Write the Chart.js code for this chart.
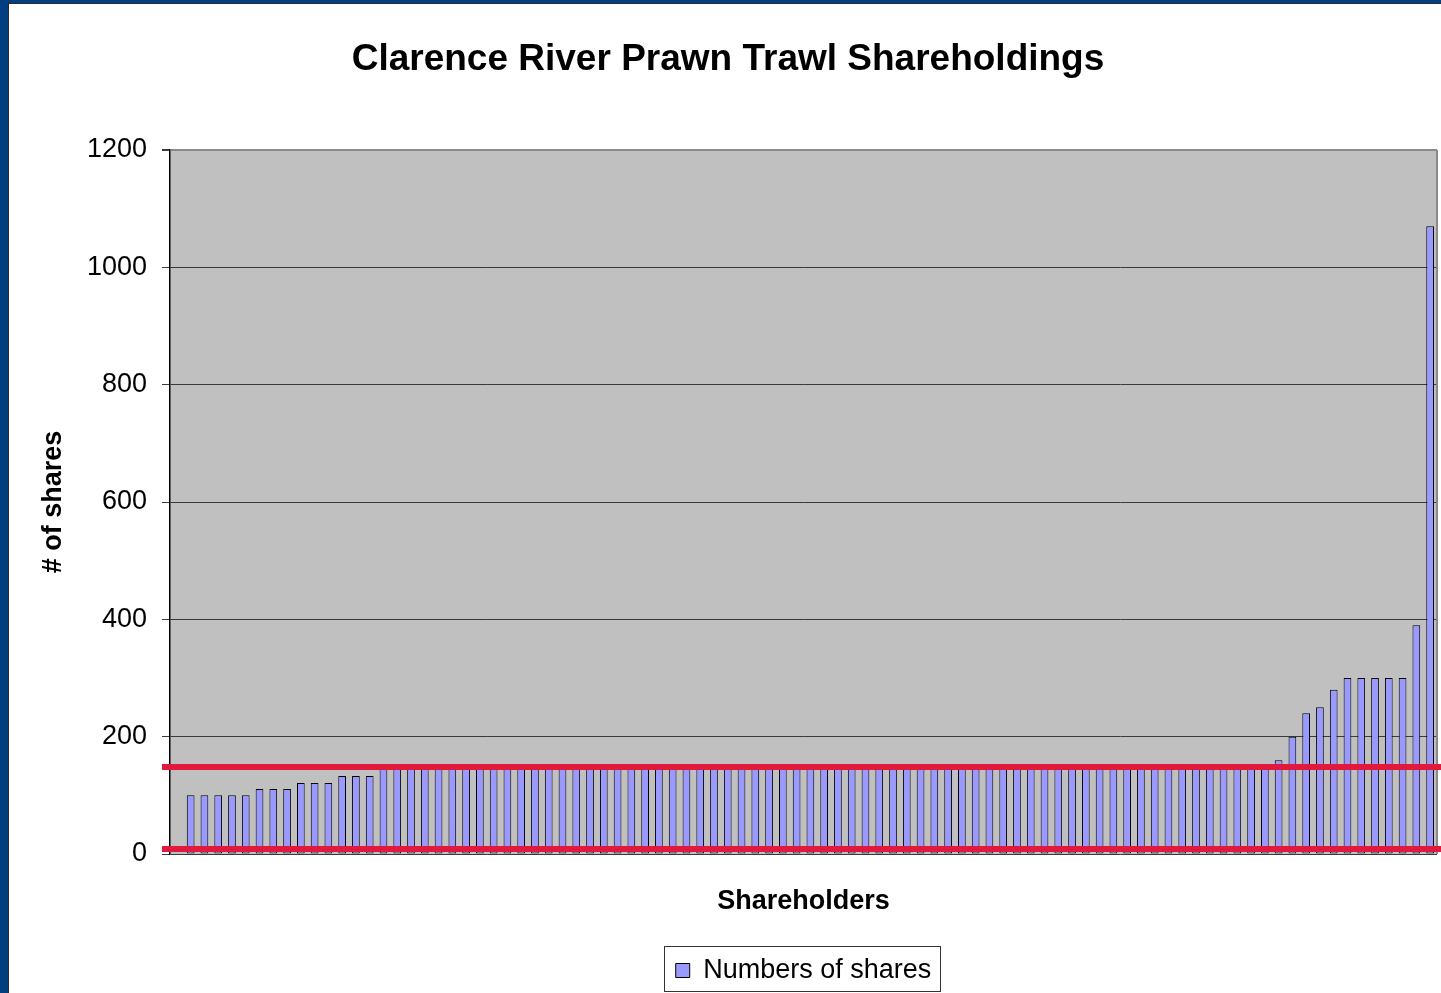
<!DOCTYPE html>
<html>
<head>
<meta charset="utf-8">
<script src="https://cdn.jsdelivr.net/npm/chart.js@4.4.1/dist/chart.umd.min.js"></script>
<style>
  html, body { margin: 0; padding: 0; background: #033F80; width: 1441px; height: 993px; overflow: hidden; }
  #frame { position: absolute; left: 8px; top: 3px; width: 1433px; height: 990px; background: #fff; border-left: 1px solid #2a2a2a; border-top: 1px solid #2a2a2a; }
  #c { position: absolute; left: 0; top: 0; }
</style>
</head>
<body>
<div id="frame"><canvas id="c" width="1433" height="990"></canvas></div>
<script>
// ---- data ----
const chartTitle = 'Clarence River Prawn Trawl Shareholdings';
const yAxisTitle = '# of shares';
const xAxisTitle = 'Shareholders';
const seriesName = 'Numbers of shares';
const shares = [
  0,
  100, 100, 100, 100, 100,
  111, 111, 111,
  121, 121, 121,
  133, 133, 133,
  150, 150, 150, 150, 150, 150, 150, 150, 150, 150,
  150, 150, 150, 150, 150, 150, 150, 150, 150, 150,
  150, 150, 150, 150, 150, 150, 150, 150, 150, 150,
  150, 150, 150, 150, 150, 150, 150, 150, 150, 150,
  150, 150, 150, 150, 150, 150, 150, 150, 150, 150,
  150, 150, 150, 150, 150, 150, 150, 150, 150, 150,
  150, 150, 150, 150, 150,
  160, 200, 240, 250, 280,
  300, 300, 300, 300, 300,
  390, 1070
];
const shareholders = shares.map((_, i) => 'Shareholder ' + (i + 1));
const yTicks = [0, 200, 400, 600, 800, 1000, 1200];
const markerLevels = [147.7, 8.5];   // red horizontal marker lines

const FONT = "'Liberation Sans', Arial, Helvetica, sans-serif";

const plotBackground = {
  id: 'plotBackground',
  beforeDraw(chart) {
    const { ctx, chartArea: a } = chart;
    ctx.save();
    ctx.fillStyle = '#C0C0C0';
    ctx.fillRect(a.left, a.top, a.right - a.left, a.bottom - a.top);
    ctx.restore();
  },
  afterDraw(chart) {
    const { ctx, chartArea: a } = chart;
    ctx.save();
    // right border of plot
    ctx.strokeStyle = '#8a8a8a';
    ctx.lineWidth = 2;
    ctx.beginPath();
    ctx.moveTo(a.right, a.top);
    ctx.lineTo(a.right, a.bottom);
    ctx.stroke();
    // red marker lines
    const y = chart.scales.y;
    ctx.strokeStyle = '#E2183E';
    ctx.lineWidth = 6;
    markerLevels.forEach(v => {
      const py = Math.round(y.getPixelForValue(v));
      ctx.beginPath();
      ctx.moveTo(a.left - 8, py);
      ctx.lineTo(chart.width, py);
      ctx.stroke();
    });
    // legend frame
    const lg = chart.legend;
    if (lg && lg.legendHitBoxes && lg.legendHitBoxes.length) {
      const hb = lg.legendHitBoxes[0];
      ctx.strokeStyle = '#333';
      ctx.lineWidth = 1;
      ctx.strokeRect(Math.round(hb.left - 12) + 0.5, Math.round(lg.top - 2) + 0.5,
                     Math.round(hb.width + 20), 45);
    }
    ctx.restore();
  }
};

new Chart(document.getElementById('c'), {
  type: 'bar',
  data: {
    labels: shareholders,
    datasets: [{
      label: seriesName,
      data: shares,
      backgroundColor: '#9999FF',
      borderColor: '#000000',
      borderWidth: 1,
      borderSkipped: false,
      barPercentage: 0.56,
      categoryPercentage: 1.0
    }]
  },
  options: {
    responsive: false,
    devicePixelRatio: 1,
    animation: false,
    layout: { padding: { left: 10, right: 5, top: 0, bottom: 0 } },
    plugins: {
      title: {
        display: true,
        text: chartTitle,
        color: '#000',
        font: { family: FONT, size: 37, weight: 'bold' },
        padding: { top: 34, bottom: 67.6 }
      },
      legend: {
        position: 'bottom',
        fullSize: false,
        labels: {
          color: '#000',
          font: { family: FONT, size: 27 },
          boxWidth: 14,
          boxHeight: 14,
          padding: 9
        }
      },
      tooltip: { enabled: false }
    },
    scales: {
      x: {
        grid: { display: false, drawTicks: false },
        border: { display: false },
        ticks: { display: false },
        title: {
          display: true,
          text: xAxisTitle,
          color: '#000',
          font: { family: FONT, size: 27, weight: 'bold' },
          padding: { top: 31.6, bottom: 30 }
        }
      },
      y: {
        min: 0,
        max: 1200,
        afterBuildTicks(scale) { scale.ticks = yTicks.map(v => ({ value: v })); },
        afterFit(scale) { scale.width = 151; },
        grid: {
          color: ctx => (ctx.tick && ctx.tick.value === 1200) ? '#8a8a8a' : '#3a3a3a',
          lineWidth: ctx => (ctx.tick && ctx.tick.value === 1200) ? 2 : 1,
          tickLength: 8,
          tickColor: '#3a3a3a',
          drawTicks: true
        },
        border: { display: true, color: '#000', width: 1.5 },
        ticks: {
          color: '#000',
          font: { family: FONT, size: 27 },
          padding: 15,
          callback: v => String(v)
        },
        title: {
          display: true,
          text: yAxisTitle,
          color: '#000',
          font: { family: FONT, size: 27, weight: 'bold' },
          padding: { top: 18, bottom: 0 }
        }
      }
    }
  },
  plugins: [plotBackground]
});
</script>
</body>
</html>
